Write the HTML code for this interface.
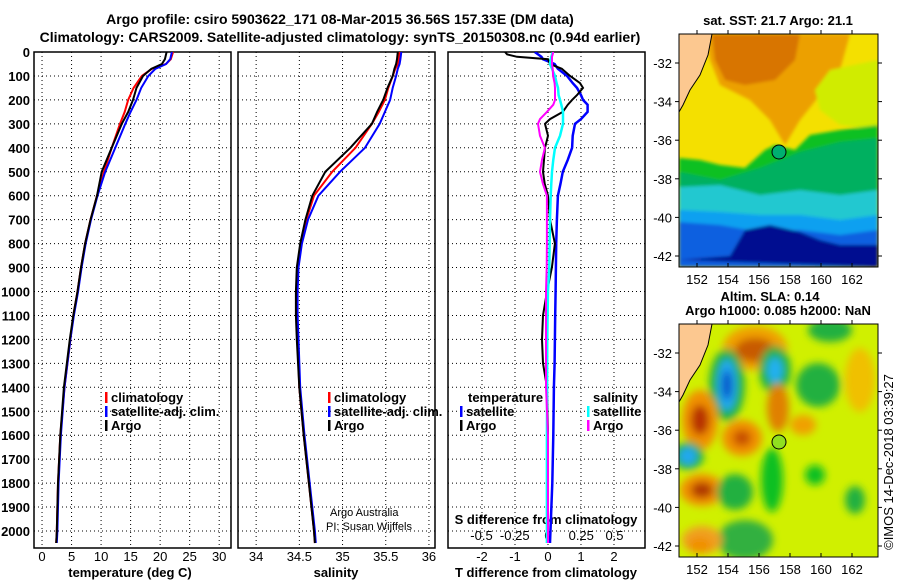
<!DOCTYPE html>
<html><head><meta charset="utf-8"><style>
body{margin:0;background:#fff;}
svg{display:block;font-family:"Liberation Sans",sans-serif;}
.b{font-weight:bold;font-size:13px;}
.t{font-weight:bold;font-size:14px;}
</style></head><body>
<svg id="s" width="900" height="580" viewBox="0 0 900 580">
<defs>
<clipPath id="c1"><rect x="34" y="52" width="197" height="496"/></clipPath>
<clipPath id="c2"><rect x="238" y="52" width="197" height="496"/></clipPath>
<clipPath id="c3"><rect x="448" y="52" width="197" height="496"/></clipPath>
<clipPath id="m1"><rect x="679" y="34" width="199" height="233"/></clipPath>
<clipPath id="m2"><rect x="679" y="324" width="199" height="233"/></clipPath>
<filter id="bl"><feGaussianBlur stdDeviation="1.5"/></filter>
<filter id="bl2"><feGaussianBlur stdDeviation="4"/></filter>
</defs>
<text class="t" x="340" y="24" text-anchor="middle">Argo profile: csiro 5903622_171 08-Mar-2015 36.56S 157.33E (DM data)</text>
<text class="t" x="340" y="42" text-anchor="middle">Climatology: CARS2009. Satellite-adjusted climatology: synTS_20150308.nc (0.94d earlier)</text>

<!-- top map -->
<g clip-path="url(#m1)">
<rect x="679" y="34" width="199" height="233" fill="#f4e000"/>
<g filter="url(#bl)">
<polygon points="705,34 850,34 840,70 820,95 800,120 785,145 770,120 750,100 720,85 710,60" fill="#eca000"/>
<polygon points="712,34 800,34 795,60 775,80 745,85 725,80 715,60" fill="#d87400"/>
<polygon points="830,70 878,60 878,130 840,125 820,110 815,90" fill="#d0ec00"/>
<polygon points="679,158 700,160 720,165 745,168 765,150 775,145 795,150 810,135 840,130 878,125 878,267 679,267" fill="#10c020"/>
<polygon points="679,172 720,180 760,168 800,152 840,142 878,138 878,267 679,267" fill="#00b060"/>
<polygon points="679,187 720,185 760,195 800,190 840,195 878,190 878,267 679,267" fill="#20c8d0"/>
<polygon points="679,210 720,212 760,215 800,215 840,220 878,215 878,267 679,267" fill="#10a0f0"/>
<polygon points="679,222 720,225 760,232 800,230 840,235 878,230 878,267 679,267" fill="#1060e0"/>
<polygon points="679,260 730,256 745,230 770,225 800,232 820,240 840,245 878,245 878,267" fill="#000890"/>
</g>
<polygon points="679,34 712,34 708,55 700,75 690,90 683,105 679,112" fill="#fcc890"/>
<polyline points="712,34 708,55 700,75 690,90 683,105 679,112" fill="none" stroke="#000" stroke-width="1"/>
<circle cx="779" cy="152" r="7" fill="#00b070" stroke="#000" stroke-width="1"/>
</g>
<rect x="679" y="34" width="199" height="233" fill="none" stroke="#000"/>
<text class="b" x="778" y="25" text-anchor="middle">sat. SST: 21.7 Argo: 21.1</text>

<!-- bottom map -->
<g clip-path="url(#m2)">
<rect x="679" y="324" width="199" height="233" fill="#d0f000"/>
<g filter="url(#bl2)">
<ellipse cx="755" cy="348" rx="32" ry="22" fill="#f0a000"/>
<ellipse cx="755" cy="350" rx="20" ry="12" fill="#c85a00"/>
<ellipse cx="727" cy="385" rx="18" ry="36" fill="#20b040"/>
<ellipse cx="727" cy="385" rx="10" ry="26" fill="#20a8f0"/>
<ellipse cx="727" cy="385" rx="5" ry="15" fill="#0050c8"/>
<ellipse cx="775" cy="370" rx="16" ry="24" fill="#20b040"/>
<ellipse cx="775" cy="370" rx="8" ry="13" fill="#20b0f0"/>
<ellipse cx="700" cy="420" rx="18" ry="30" fill="#f09000"/>
<ellipse cx="700" cy="420" rx="9" ry="15" fill="#b83000"/>
<ellipse cx="688" cy="456" rx="16" ry="14" fill="#20b040"/>
<ellipse cx="688" cy="456" rx="9" ry="9" fill="#20a8f0"/>
<ellipse cx="702" cy="490" rx="22" ry="16" fill="#f09000"/>
<ellipse cx="702" cy="490" rx="11" ry="8" fill="#b03800"/>
<ellipse cx="742" cy="438" rx="20" ry="18" fill="#f09000"/>
<ellipse cx="742" cy="438" rx="9" ry="8" fill="#c85000"/>
<ellipse cx="778" cy="408" rx="11" ry="24" fill="#e08000"/>
<ellipse cx="803" cy="425" rx="13" ry="10" fill="#f0a000"/>
<ellipse cx="818" cy="385" rx="22" ry="22" fill="#20b040"/>
<ellipse cx="860" cy="380" rx="15" ry="32" fill="#f0c000"/>
<ellipse cx="735" cy="492" rx="18" ry="18" fill="#20b040"/>
<ellipse cx="772" cy="480" rx="11" ry="32" fill="#10c020"/>
<ellipse cx="745" cy="540" rx="28" ry="20" fill="#30b040"/>
<ellipse cx="702" cy="540" rx="20" ry="14" fill="#f0a020"/>
<ellipse cx="815" cy="475" rx="10" ry="10" fill="#10c020"/>
<ellipse cx="855" cy="500" rx="10" ry="14" fill="#20b040"/>
<ellipse cx="830" cy="330" rx="22" ry="12" fill="#20b040"/>
<ellipse cx="700" cy="545" rx="12" ry="8" fill="#f09000"/>
</g>
<polygon points="679,324 712,324 708,345 700,365 690,380 683,395 679,402" fill="#fcc890"/>
<polyline points="712,324 708,345 700,365 690,380 683,395 679,402" fill="none" stroke="#000" stroke-width="1"/>
<circle cx="779" cy="442" r="7" fill="#90e020" stroke="#000" stroke-width="1"/>
</g>
<rect x="679" y="324" width="199" height="233" fill="none" stroke="#000"/>
<text class="b" x="770" y="301" text-anchor="middle">Altim. SLA: 0.14</text>
<text class="b" x="778" y="315" text-anchor="middle">Argo h1000: 0.085 h2000: NaN</text>
<text x="0" y="0" font-size="13" transform="translate(893,462) rotate(-90)" text-anchor="middle">©IMOS 14-Dec-2018 03:39:27</text>
<g id="g"></g>
</svg>
<script>
// depth levels (dbar) for profile series
const depths=[0,30,50,70,100,150,200,250,300,400,500,600,700,800,900,1000,1100,1200,1400,1600,1800,2000,2050];
const tempArgo=[21.1,20.8,20.3,18.5,17.1,16.0,15.4,14.6,13.5,11.8,10.1,9.3,8.2,7.3,6.6,6.0,5.3,4.7,3.7,3.1,2.7,2.5,2.4];
const tempClim=[22.2,21.8,21.0,18.6,16.9,15.5,14.6,14.0,13.2,11.8,10.5,9.3,8.2,7.3,6.6,6.0,5.3,4.8,3.8,3.1,2.7,2.5,2.4];
const tempSat=[22.0,21.7,21.0,19.2,18.0,16.8,16.0,15.0,14.1,12.4,10.7,9.4,8.3,7.4,6.7,6.1,5.4,4.8,3.8,3.2,2.8,2.6,2.5];
const salArgo=[35.64,35.63,35.62,35.60,35.58,35.52,35.47,35.40,35.34,35.09,34.80,34.65,34.57,34.51,34.47,34.46,34.46,34.47,34.50,34.55,34.61,34.67,34.68];
const salClim=[35.66,35.65,35.64,35.61,35.58,35.53,35.49,35.42,35.34,35.15,34.88,34.67,34.58,34.52,34.48,34.47,34.47,34.48,34.50,34.55,34.61,34.67,34.68];
const salSat=[35.68,35.67,35.66,35.64,35.62,35.58,35.55,35.49,35.43,35.26,34.97,34.72,34.60,34.53,34.49,34.48,34.48,34.49,34.51,34.56,34.62,34.68,34.69];
const diffDepths=[0,10,20,30,50,70,100,130,150,180,200,220,250,280,300,350,400,450,500,550,600,700,800,900,1000,1100,1200,1300,1400,1600,1800,2050];
const dTArgo=[-1.3,-1.24,-0.94,0,0.06,0.42,0.67,0.97,1.06,0.88,0.73,0.6,0.45,0.06,-0.09,0,-0.09,-0.12,-0.15,-0.1,0,0.06,0.21,0.12,-0.03,-0.15,-0.18,-0.15,-0.03,0,0,0];
const dTSat=[-0.4,-0.3,-0.2,-0.15,0.2,0.3,0.58,0.75,0.88,1.0,1.06,1.2,1.2,1.0,0.82,0.75,0.73,0.6,0.45,0.38,0.3,0.27,0.25,0.24,0.23,0.22,0.21,0.2,0.18,0.16,0.13,0.06];
const dSArgo=[0.038,0.035,0.03,0.03,0.03,0.035,0.038,0.05,0.053,0.053,0.053,0.04,-0.008,-0.06,-0.075,-0.06,-0.023,-0.045,-0.06,-0.038,-0.008,-0.008,-0.008,-0.01,-0.015,-0.015,-0.015,-0.015,-0.015,0,0,0];
const dSSat=[0.038,0.03,0.025,0.02,0.015,0.03,0.053,0.065,0.075,0.08,0.09,0.1,0.113,0.113,0.113,0.09,0.053,0.04,0.03,0.025,0.02,0.015,0.012,0.01,0.0,-0.003,-0.005,-0.006,-0.007,-0.008,-0.008,-0.008];
const depthTicks=[0,100,200,300,400,500,600,700,800,900,1000,1100,1200,1300,1400,1500,1600,1700,1800,1900,2000];
const tempTicks=[0,5,10,15,20,25,30];
const salTicks=[34,34.5,35,35.5,36];
const dTTicks=[-2,-1,0,1,2];
const dSTicks=[-0.5,-0.25,0,0.25,0.5];

const NS='http://www.w3.org/2000/svg';
const G=document.getElementById('g');
function el(tag,attrs,parent){const e=document.createElementNS(NS,tag);for(const k in attrs)e.setAttribute(k,attrs[k]);(parent||G).appendChild(e);return e;}
const Y0=52,YB=548;
function yD(d){return Y0+d*0.2395;}
const P1={x0:34,w:197,min:-1.36,max:32};
const P2={x0:238,w:197,min:33.79,max:36.07};
const P3={x0:448,w:197,min:-3.03,max:2.94};
function xs(P,v){return P.x0+(v-P.min)/(P.max-P.min)*P.w;}
function xS(v){return 548+v*133;}

function frame(P,name,vt){
  const f=el('rect',{x:P.x0,y:Y0,width:P.w,height:YB-Y0,fill:'none',stroke:'#000','stroke-width':1.5});
  
  
  depthTicks.forEach(d=>{
    const l=el('line',{x1:P.x0,x2:P.x0+P.w,y1:yD(d),y2:yD(d),stroke:'#000','stroke-dasharray':'1,3'});
    
    
  });
  vt.forEach(v=>{
    const x=xs(P,v);
    const l=el('line',{x1:x,x2:x,y1:Y0,y2:YB,stroke:'#000','stroke-dasharray':'1,3'});
    
    
  });
}
function line(P,xv,yv,col,w,name,xf){
  const pts=xv.map((v,i)=>(xf?xf(v):xs(P,v)).toFixed(1)+','+yD(yv[i]).toFixed(1)).join(' ');
  const g=el('g',{'clip-path':'url(#'+P.clip+')'});
  const p=el('polyline',{points:pts,fill:'none',stroke:col,'stroke-width':w},g);
  
  
}
function txt(x,y,s,opts,name){
  const t=el('text',Object.assign({x:x,y:y,'font-size':13,'font-weight':'bold'},opts||{}));
  t.textContent=s;
  
  
  return t;
}
P1.clip='c1';P2.clip='c2';P3.clip='c3';
frame(P1,'temperature-panel',tempTicks);
frame(P2,'salinity-panel',salTicks);
frame(P3,'difference-panel',dTTicks);
depthTicks.forEach(d=>{txt(30,yD(d)+5,String(d),{'text-anchor':'end'},'depth-tick-label');});
tempTicks.forEach(v=>txt(xs(P1,v),561,String(v),{'text-anchor':'middle','font-weight':'normal'},'temperature-tick-label'));
salTicks.forEach(v=>txt(xs(P2,v),561,String(v),{'text-anchor':'middle','font-weight':'normal'},'salinity-tick-label'));
dTTicks.forEach(v=>txt(xs(P3,v),561,String(v),{'text-anchor':'middle','font-weight':'normal'},'t-diff-tick-label'));
dSTicks.forEach(v=>txt(xS(v),540,String(v),{'text-anchor':'middle','font-weight':'normal'},'s-diff-tick-label'));
txt(130,577,'temperature (deg C)',{'text-anchor':'middle'},'x-axis-title-temperature');
txt(336,577,'salinity',{'text-anchor':'middle'},'x-axis-title-salinity');
txt(546,577,'T difference from climatology',{'text-anchor':'middle'},'x-axis-title-t-diff');
txt(546,524,'S difference from climatology',{'text-anchor':'middle'},'s-diff-axis-title');
txt(330,516,'Argo Australia',{'font-weight':'normal','font-size':11},'credit-argo-australia');
txt(326,530,'PI: Susan Wijffels',{'font-weight':'normal','font-size':11},'credit-pi');

line(P1,tempClim,depths,'#f00',2,'temperature-climatology-line');
line(P1,tempSat,depths,'#00f',2,'temperature-satellite-line');
line(P1,tempArgo,depths,'#000',2,'temperature-argo-line');
line(P2,salClim,depths,'#f00',2,'salinity-climatology-line');
line(P2,salSat,depths,'#00f',2,'salinity-satellite-line');
line(P2,salArgo,depths,'#000',2,'salinity-argo-line');
line(P3,dTSat,diffDepths,'#00f',2.5,'t-diff-satellite-line');
line(P3,dTArgo,diffDepths,'#000',2,'t-diff-argo-line');
line(P3,dSSat,diffDepths,'#0ff',2.5,'s-diff-satellite-line',xS);
line(P3,dSArgo,diffDepths,'#f0f',2,'s-diff-argo-line',xS);

function leg(x,y,col,label,name){
  const r=el('rect',{x:x,y:y-10,width:2.5,height:11,fill:col});
  
  
  txt(x+6,y,label,{},name);
}
leg(105,402,'#f00','climatology','legend-t-climatology');
leg(105,416,'#00f','satellite-adj. clim.','legend-t-satellite');
leg(105,430,'#000','Argo','legend-t-argo');
leg(328,402,'#f00','climatology','legend-s-climatology');
leg(328,416,'#00f','satellite-adj. clim.','legend-s-satellite');
leg(328,430,'#000','Argo','legend-s-argo');
txt(468,402,'temperature',{},'legend-temperature-heading');
txt(593,402,'salinity',{},'legend-salinity-heading');
leg(460,416,'#00f','satellite','legend-diff-t-satellite');
leg(460,430,'#000','Argo','legend-diff-t-argo');
leg(587,416,'#0ff','satellite','legend-diff-s-satellite');
leg(587,430,'#f0f','Argo','legend-diff-s-argo');

// map axes
const lonTicks=[152,154,156,158,160,162];
const latTicks=[-32,-34,-36,-38,-40,-42];
function lonX(l){return 697+(l-152)*15.5;}
[[34,267],[324,557]].forEach(([t,b],k)=>{
  const yo=k?290:0;
  lonTicks.forEach(l=>{
    el('line',{x1:lonX(l),x2:lonX(l),y1:b,y2:b-4,stroke:'#000'});
    el('line',{x1:lonX(l),x2:lonX(l),y1:t,y2:t-4,stroke:'#000'});
    txt(lonX(l),b+17,String(l),{'text-anchor':'middle','font-weight':'normal','font-size':13},'map-lon-label');
  });
  latTicks.forEach(l=>{
    const y=63+yo+(-32-l)*19.3;
    el('line',{x1:679,x2:675,y1:y,y2:y,stroke:'#000'});
    el('line',{x1:878,x2:882,y1:y,y2:y,stroke:'#000'});
    txt(672,y+5,String(l),{'text-anchor':'end','font-weight':'normal','font-size':13},'map-lat-label');
  });
});
</script>
</body></html>
